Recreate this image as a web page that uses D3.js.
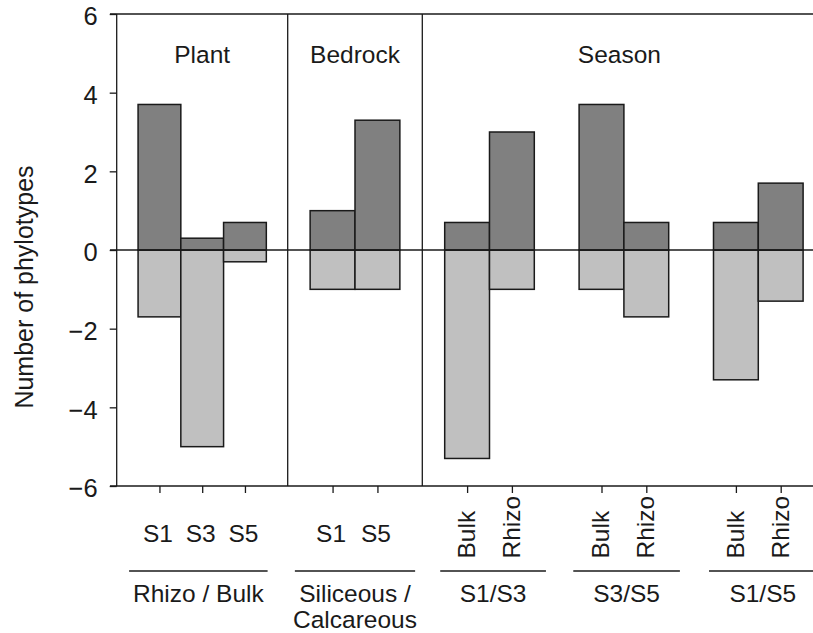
<!DOCTYPE html>
<html>
<head>
<meta charset="utf-8">
<script src="https://cdn.jsdelivr.net/npm/d3@7"></script>
<style>
  html, body { margin: 0; padding: 0; background: #fff; }
  svg { display: block; }
  text { font-family: "Liberation Sans", Arial, Helvetica, sans-serif; fill: #1a1a1a; }
</style>
</head>
<body>
<div id="chart"></div>
<script>
// ---- data ----
const sections = ["Plant", "Bedrock", "Season"];
const categories = ["S1", "S3", "S5", "S1", "S5", "Bulk", "Rhizo", "Bulk", "Rhizo", "Bulk", "Rhizo"];
const comparisons = ["Rhizo / Bulk", "Siliceous /\nCalcareous", "S1/S3", "S3/S5", "S1/S5"];
const sectionOfBar = [0, 0, 0, 1, 1, 2, 2, 2, 2, 2, 2];
const positiveValues = [3.7, 0.3, 0.7, 1.0, 3.3, 0.7, 3.0, 3.7, 0.7, 0.7, 1.7];
const negativeValues = [-1.7, -5.0, -0.3, -1.0, -1.0, -5.3, -1.0, -1.0, -1.7, -3.3, -1.3];
const yTicks = [-6, -4, -2, 0, 2, 4, 6];
const yLabel = "Number of phylotypes";

// ---- layout (slot positions, not data) ----
const slot = [1, 2, 3, 5, 6, 8, 9, 11, 12, 14, 15];
const sectionBounds = [0, 4, 7, 16];
const sectionTitlePos = [2, 5.5, 11.4];
const underlineSpan = [[0.29, 3.53], [4.16, 6.84], [7.4, 9.76], [10.37, 12.75], [13.4, 15.8]];

const W = 813, H = 633;
const svg = d3.select("#chart").append("svg").attr("width", W).attr("height", H);

const x = d3.scaleLinear().domain(sectionBounds).range([116.7, 287.7, 422.3, 825.5]);
const y = d3.scaleLinear().domain([-6, 6]).range([486, 14]);

const lineColor = "#1a1a1a";

// bars
const barG = svg.append("g");
barG.selectAll("rect.neg").data(negativeValues).join("rect")
  .attr("class", "neg")
  .attr("x", (d, i) => x(slot[i] - 0.5))
  .attr("width", (d, i) => x(slot[i] + 0.5) - x(slot[i] - 0.5))
  .attr("y", y(0))
  .attr("height", d => y(d) - y(0))
  .attr("fill", "#c0c0c0").attr("stroke", lineColor).attr("stroke-width", 1.5);
barG.selectAll("rect.pos").data(positiveValues).join("rect")
  .attr("class", "pos")
  .attr("x", (d, i) => x(slot[i] - 0.5))
  .attr("width", (d, i) => x(slot[i] + 0.5) - x(slot[i] - 0.5))
  .attr("y", d => y(d))
  .attr("height", d => y(0) - y(d))
  .attr("fill", "#808080").attr("stroke", lineColor).attr("stroke-width", 1.5);

// frame lines
const hLines = [6, 0, -6];
svg.selectAll("line.h").data(hLines).join("line")
  .attr("x1", 110).attr("x2", W).attr("y1", d => y(d)).attr("y2", d => y(d))
  .attr("stroke", lineColor).attr("stroke-width", 1.3);
svg.selectAll("line.v").data(sectionBounds.slice(0, 3)).join("line")
  .attr("x1", d => x(d)).attr("x2", d => x(d)).attr("y1", y(6)).attr("y2", y(-6))
  .attr("stroke", lineColor).attr("stroke-width", 1.3);

// y axis
const yAxis = d3.axisLeft(y).tickValues(yTicks).tickSize(7).tickPadding(12).tickFormat(d3.format("d"));
const yg = svg.append("g").attr("transform", `translate(${x(0)},0)`).call(yAxis);
yg.select(".domain").remove();
yg.selectAll(".tick line").attr("stroke", lineColor).attr("stroke-width", 1.3);
yg.selectAll(".tick text").attr("font-size", 25.5).attr("dy", "0.42em")
  .style("font-family", '"Liberation Sans", Arial, sans-serif').attr("fill", "#1a1a1a");

// x axis ticks
const xAxis = d3.axisBottom(x).tickValues(slot).tickSize(7).tickFormat("");
const xg = svg.append("g").attr("transform", `translate(0,${y(-6)})`).call(xAxis);
xg.select(".domain").remove();
xg.selectAll(".tick line").attr("stroke", lineColor).attr("stroke-width", 1.3);

// category labels
categories.forEach((c, i) => {
  if (sectionOfBar[i] < 2) {
    svg.append("text").attr("x", x(slot[i]) - 1.5).attr("y", 542)
      .attr("text-anchor", "middle").attr("font-size", 24.5).text(c);
  } else {
    svg.append("text")
      .attr("transform", `translate(${x(slot[i]) - 1},558.5) rotate(-90)`)
      .attr("dy", "0.36em").attr("text-anchor", "start").attr("font-size", 24.5).text(c);
  }
});

// comparison underlines and labels
comparisons.forEach((c, k) => {
  const x1 = x(underlineSpan[k][0]), x2 = x(underlineSpan[k][1]);
  svg.append("line").attr("x1", x1).attr("x2", x2).attr("y1", 571).attr("y2", 571)
    .attr("stroke", lineColor).attr("stroke-width", 1.3);
  const lines = c.split("\n");
  lines.forEach((ln, j) => {
    svg.append("text").attr("x", (x1 + x2) / 2).attr("y", 601.5 + j * 26.5)
      .attr("text-anchor", "middle").attr("font-size", 24.5).text(ln);
  });
});

// section titles
sections.forEach((s, k) => {
  svg.append("text").attr("x", x(sectionTitlePos[k])).attr("y", 63)
    .attr("text-anchor", "middle").attr("font-size", 24.5).text(s);
});

// y label
svg.append("text").attr("transform", "translate(33,287) rotate(-90)")
  .attr("text-anchor", "middle").attr("font-size", 25).text(yLabel);
</script>
</body>
</html>
